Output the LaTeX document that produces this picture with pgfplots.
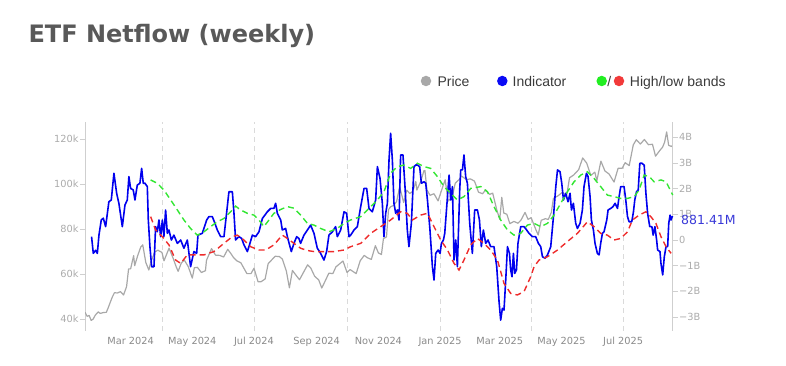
\documentclass[border=0pt]{standalone}
\usepackage{fontspec}
\usepackage{pgfplots}
\pgfplotsset{compat=1.18}
\setmainfont{Liberation Sans}
\newfontfamily\tickfont{DejaVu Sans}
\newfontfamily\titlefont{DejaVu Sans}
\definecolor{pricecol}{HTML}{A8A8A8}
\definecolor{indcol}{HTML}{0000EE}
\definecolor{hicol}{HTML}{33E633}
\definecolor{locol}{HTML}{EE2B2B}
\definecolor{axcol}{HTML}{CFCFCF}
\definecolor{ticklab}{HTML}{ABABAB}
\definecolor{xlab}{HTML}{8A8A8A}
\definecolor{gridcol}{HTML}{DADADA}
\definecolor{titlecol}{HTML}{595959}
\definecolor{legtext}{HTML}{3A3A3A}
\definecolor{labcol}{HTML}{3A3AD8}
\definecolor{legblue}{HTML}{0A0AF5}
\definecolor{leggreen}{HTML}{22EE22}
\definecolor{legred}{HTML}{F23A3A}

\begin{document}
\begin{tikzpicture}
\path[use as bounding box] (0pt,0pt) rectangle (786pt,366pt);
% title
\node[anchor=base west, inner sep=0, text=titlecol, font=\titlefont\bfseries\fontsize{24}{28}\selectfont] at (28.3pt,323.3pt) {ETF Netflow (weekly)};
% legend
\node[circle, fill=pricecol, inner sep=0, minimum size=10.5pt] at (426pt,285pt) {};
\node[anchor=base west, inner sep=0, text=legtext, font=\fontsize{14}{16}\selectfont] at (437.3pt,279.5pt) {Price};
\node[circle, fill=legblue, inner sep=0, minimum size=10.5pt] at (502.3pt,285pt) {};
\node[anchor=base west, inner sep=0, text=legtext, font=\fontsize{14}{16}\selectfont] at (512.5pt,279.5pt) {Indicator};
\node[circle, fill=leggreen, inner sep=0, minimum size=10.5pt] at (601.7pt,285pt) {};
\node[anchor=base, inner sep=0, text=legtext, font=\fontsize{14}{16}\selectfont] at (609.4pt,279.5pt) {/};
\node[circle, fill=legred, inner sep=0, minimum size=10.5pt] at (619pt,285pt) {};
\node[anchor=base west, inner sep=0, text=legtext, font=\fontsize{14}{16}\selectfont] at (629.7pt,279.5pt) {High/low bands};

\begin{axis}[
  at={(85pt,35.3pt)}, anchor=south west,
  width=587.7pt, height=208.7pt, scale only axis,
  xmin=14.9, xmax=596.0, ymin=34.93, ymax=127.69,
  axis x line*=bottom, axis y line*=left,
  axis line style={-},
  x axis line style={draw=none},
  y axis line style={draw=axcol, line width=0.8pt},
  xtick={60,121,182,244,305,366,425,486,547},
  xticklabels={Mar 2024,May 2024,Jul 2024,Sep 2024,Nov 2024,Jan 2025,Mar 2025,May 2025,Jul 2025},
  xtick style={draw=none},
  xticklabel style={font=\tickfont\fontsize{9.8}{10}\selectfont, text=xlab, yshift=2.5pt},
  extra x ticks={91,182,274,366,456,547},
  extra x tick labels={},
  extra x tick style={xmajorgrids=true, major grid style={draw=gridcol, dash pattern=on 5pt off 4pt, line width=0.8pt}, tick style={draw=none}},
  ytick={40,60,80,100,120},
  yticklabels={40k,60k,80k,100k,120k},
  ytick style={draw=axcol, line width=0.8pt},
  major tick length=5pt,
  tick align=outside,
  yticklabel style={font=\tickfont\fontsize{9.8}{10}\selectfont, text=ticklab, inner sep=1.2pt},
]
\addplot[pricecol, line width=1.2pt, line join=round] table {
15 43.1
17 41.3
19 41.7
21 39.5
23 40.1
25 41.8
28 43.3
30 42.6
33 43.0
36 43.1
38 45.3
40 47.7
42 50.0
44 51.8
47 51.7
50 52.3
53 50.8
56 54.5
58 62.4
60 62.4
63 68.3
64 63.8
67 68.3
70 72.1
72 73.1
75 65.3
78 61.9
80 65.5
84 70.0
87 70.7
91 69.7
93 66.0
98 71.6
102 67.2
105 63.4
107 61.3
110 64.9
113 66.4
117 63.4
121 58.3
123 62.9
126 63.1
130 60.8
134 61.6
135 66.2
140 71.4
144 68.5
148 68.4
152 67.7
156 71.1
159 69.3
162 67.3
165 66.0
169 65.1
175 60.3
179 60.3
182 62.7
186 56.7
189 56.7
193 57.9
196 64.7
201 67.1
203 68.0
207 67.9
210 66.8
214 61.4
217 54.0
220 61.7
224 59.3
227 57.6
235 64.2
238 62.9
242 59.1
246 57.5
249 53.9
253 57.6
256 60.5
260 60.3
263 63.3
270 65.9
274 60.8
277 62.1
283 60.3
287 66.0
291 68.4
294 67.4
298 66.6
302 72.7
305 69.5
308 68.8
310 75.9
313 76.6
315 88.7
317 90.0
320 90.6
323 92.3
326 98.9
330 91.9
333 97.4
336 95.9
339 96.9
342 101.2
343 97.4
347 101.4
350 106.0
351 106.1
353 97.5
356 95.1
360 95.8
364 92.6
368 98.1
371 102.0
374 92.5
378 94.5
381 100.5
385 102.2
387 103.7
392 102.1
396 102.4
400 101.4
404 96.5
408 95.8
411 97.5
415 95.5
418 96.1
422 88.7
425 84.4
427 94.2
429 87.2
432 86.7
435 82.5
439 83.5
443 82.7
446 84.1
450 87.5
453 84.4
456 85.2
461 79.5
463 77.5
466 84.0
470 84.7
473 84.4
476 87.5
478 93.7
483 95.0
487 96.5
491 94.7
494 102.9
498 104.1
503 106.5
507 111.7
511 109.4
515 103.9
519 105.4
521 101.6
525 110.3
529 105.9
533 104.6
538 101.0
542 107.1
546 107.1
549 109.6
553 108.3
557 117.5
560 119.8
564 117.9
568 119.9
572 117.6
576 117.8
579 112.5
583 114.9
586 116.5
588 118.7
590 123.3
592 117.3
595 116.8
596 117.4
};
\end{axis}

\begin{axis}[
  at={(85pt,35.3pt)}, anchor=south west,
  width=587.7pt, height=208.7pt, scale only axis,
  xmin=14.9, xmax=596.0, ymin=-3.533, ymax=4.597,
  clip=false,
  axis x line=none, axis y line*=right,
  axis line style={-},
  y axis line style={draw=axcol, line width=0.8pt},
  ytick={-3,-2,-1,0,1,2,3,4},
  yticklabels={−3B,−2B,−1B,0,1B,2B,3B,4B},
  ytick style={draw=axcol, line width=0.8pt},
  major tick length=5pt,
  tick align=outside,
  yticklabel style={font=\tickfont\fontsize{9.8}{10}\selectfont, text=ticklab, inner sep=1.2pt},
]
\addplot[indcol, line width=1.6pt, line join=round] table {
21.4 0.13
23.1 -0.52
25.4 -0.40
27.1 -0.52
28.7 0.19
31.0 0.78
33.0 0.85
35.3 0.52
38.5 1.49
40.9 1.56
43.5 2.60
46.2 1.82
48.4 1.43
51.8 0.52
54.4 1.36
56.7 1.56
58.3 2.47
60.0 2.01
62.6 1.95
64.3 1.56
66.6 2.14
69.2 2.21
70.9 2.79
72.5 2.21
74.2 2.21
76.5 2.08
77.5 0.78
79.1 -0.26
80.8 -1.04
83.1 -1.04
84.7 0.52
86.4 0.32
88.0 0.78
89.7 0.13
91.4 0.78
92.9 0.13
94.6 1.17
96.3 0.26
97.9 0.39
100.3 0.00
102.8 0.19
106.2 -0.13
109.5 0.00
112.7 -0.32
116.1 0.00
119.3 -1.04
122.6 -0.45
125.3 -0.52
126.6 0.19
130.9 0.26
135.2 0.78
137.4 0.91
140.8 0.91
143.4 0.65
145.7 0.39
149.0 0.13
152.3 0.13
155.6 1.30
157.2 1.88
160.6 1.88
162.2 1.04
163.8 0.00
167.1 0.13
169.8 0.06
172.1 -0.19
175.4 -0.45
177.0 -0.26
180.4 0.19
183.6 0.13
186.9 0.32
190.3 0.84
195.2 1.10
198.5 1.23
201.7 1.23
203.4 1.43
205.1 1.04
208.4 0.78
210.0 0.39
213.3 0.45
215.0 0.13
218.9 -0.45
221.5 -0.13
224.2 0.13
226.4 0.06
228.1 -0.13
231.4 0.19
234.8 0.39
238.0 0.58
241.3 0.26
244.6 -0.32
247.9 -0.52
251.2 -0.78
253.8 -0.45
256.1 0.19
259.5 0.32
262.7 0.52
264.4 0.13
267.7 0.39
271.0 1.10
273.6 1.04
275.9 0.13
277.6 0.19
280.9 0.39
284.2 0.52
287.5 1.30
290.8 2.01
293.4 2.01
295.7 1.23
299.0 1.10
302.3 1.56
304.0 2.86
306.6 2.40
308.9 1.43
310.5 0.13
312.2 1.04
313.9 1.43
315.5 3.12
317.1 4.16
318.8 3.12
320.4 1.43
322.1 1.04
323.8 1.17
325.4 0.78
327.0 3.31
329.3 3.31
331.3 2.08
333.6 0.39
335.2 -0.26
337.6 0.65
340.2 2.86
341.9 2.92
343.6 2.92
345.8 2.86
347.5 2.21
350.1 2.27
351.8 2.21
353.5 1.56
356.0 0.39
358.4 -1.04
360.0 -1.56
361.7 -0.52
364.0 -0.39
366.0 -0.52
367.3 -0.13
369.3 0.00
370.6 0.26
373.3 1.69
374.9 2.53
376.5 1.56
378.2 2.08
379.8 -0.78
381.5 0.00
383.1 -1.04
385.4 1.95
386.4 2.73
388.1 2.73
389.6 3.31
391.3 2.47
393.0 2.21
395.3 0.65
397.9 -0.52
400.2 1.17
402.9 1.17
404.9 0.78
406.8 -0.26
408.8 0.39
411.1 -0.13
413.4 0.00
416.0 -0.26
419.3 -0.26
422.0 -1.04
424.3 -2.40
425.9 -3.12
427.6 -2.66
429.2 -2.73
430.9 -1.56
432.6 -0.26
434.6 -0.52
435.8 -1.17
437.1 -1.43
438.5 -0.52
439.8 -1.30
441.5 -1.17
443.0 -0.13
445.7 0.52
449.0 0.52
451.6 0.39
453.9 0.26
457.2 0.13
460.5 0.13
463.2 -0.13
465.5 -0.26
467.2 -0.65
469.8 -0.71
472.2 -0.58
475.4 -0.26
478.1 0.91
480.4 2.08
482.1 2.73
484.6 2.66
486.3 2.21
488.0 1.56
490.2 1.82
492.5 1.49
494.5 1.82
495.9 1.17
497.8 1.43
500.1 0.65
501.8 0.45
504.4 0.65
506.7 1.17
508.3 2.08
510.7 2.60
512.3 2.47
514.3 1.69
515.6 0.78
517.6 0.39
519.2 -0.13
521.5 -0.52
523.2 -0.58
524.8 -0.13
526.5 0.26
528.1 0.32
530.8 0.78
532.1 1.17
534.7 1.23
537.0 1.30
539.0 1.43
541.4 1.23
543.0 1.69
544.6 2.08
547.9 2.08
549.6 1.56
551.3 0.91
552.9 0.71
555.5 0.71
557.2 1.10
558.5 1.56
560.2 1.88
561.9 1.95
563.5 2.99
565.5 2.99
567.8 2.92
569.5 1.82
571.2 1.04
573.3 0.52
575.4 0.52
576.7 0.19
578.4 0.52
580.1 0.00
581.1 -0.39
583.4 -0.45
584.4 -0.91
586.1 -1.36
587.7 -0.65
589.4 -0.26
591.0 -0.26
592.1 0.65
593.4 0.97
594.4 0.78
595.4 0.91
596.0 0.88
};
\addplot[hicol, line width=1.4pt, dash pattern=on 6pt off 4pt] table {
79.8 2.34
86.4 2.21
92.9 1.95
99.6 1.56
106.2 1.17
112.7 0.78
119.3 0.45
126.0 0.19
132.5 0.32
139.1 0.52
145.7 0.71
152.3 0.84
158.9 1.10
163.8 1.32
168.8 1.17
175.4 1.04
181.9 0.97
186.9 0.78
191.8 0.52
196.8 0.78
201.7 1.04
208.4 1.19
215.0 1.30
221.5 1.24
228.1 0.97
234.8 0.65
241.3 0.58
247.9 0.45
256.1 0.32
264.4 0.45
271.0 0.65
277.6 0.78
287.5 0.91
297.4 1.30
304.0 1.56
310.5 1.88
317.1 2.60
323.8 2.86
330.3 2.92
336.9 2.79
343.6 2.99
350.1 2.86
356.7 2.79
363.3 2.47
369.9 2.08
376.5 1.82
383.1 1.56
389.6 1.69
396.3 2.01
406.2 2.08
412.8 1.88
419.3 1.30
425.9 0.78
432.6 0.39
439.1 0.19
445.7 0.26
452.3 0.58
458.9 0.65
465.5 0.52
472.2 0.65
478.7 0.97
485.3 1.43
491.9 1.88
498.5 2.27
505.1 2.53
511.7 2.66
518.2 2.40
524.8 2.08
531.4 1.75
538.0 1.69
544.6 1.62
551.3 1.62
557.9 1.69
562.8 1.95
567.8 2.53
572.7 2.47
577.7 2.27
584.4 2.34
589.4 2.27
594.4 1.88
596.0 1.75
};
\addplot[locol, line width=1.4pt, dash pattern=on 6pt off 4pt] table {
79.8 0.91
84.7 0.39
91.4 0.13
97.9 -0.19
104.5 -0.78
109.5 -0.91
116.1 -0.58
124.3 -0.58
132.5 -0.58
142.4 -0.45
152.3 -0.13
160.6 0.13
165.5 0.19
172.1 0.00
178.7 -0.26
186.9 -0.39
193.5 -0.39
201.7 -0.19
210.0 0.19
215.0 0.06
221.5 -0.13
228.1 -0.32
234.8 -0.41
241.3 -0.45
251.2 -0.45
261.1 -0.45
271.0 -0.39
277.6 -0.26
287.5 -0.13
297.4 0.26
307.3 0.52
317.1 0.78
327.0 1.10
333.6 1.04
338.6 0.78
346.8 0.97
353.5 1.04
360.0 0.52
366.6 0.00
373.3 -0.39
379.8 -0.91
384.7 -1.17
389.6 -0.78
396.3 -0.19
402.9 0.06
409.4 -0.13
416.0 -0.39
422.7 -0.78
429.2 -1.69
435.8 -2.08
442.4 -2.14
449.0 -2.01
455.6 -1.43
458.9 -1.04
463.9 -0.78
472.2 -0.65
482.1 -0.39
491.9 -0.06
501.8 0.26
511.7 0.71
518.2 0.52
524.8 0.26
531.4 0.19
538.0 0.00
544.6 0.06
551.3 0.32
556.2 0.78
562.8 0.97
569.5 1.10
574.4 0.91
579.4 0.65
584.4 0.13
589.4 -0.26
594.4 -0.52
};
\node[anchor=west, inner sep=0, xshift=8.3pt, text=labcol, font=\tickfont\fontsize{12.5}{14}\selectfont] at (axis cs:596,0.78) {881.41M};
\end{axis}
\end{tikzpicture}
\end{document}
